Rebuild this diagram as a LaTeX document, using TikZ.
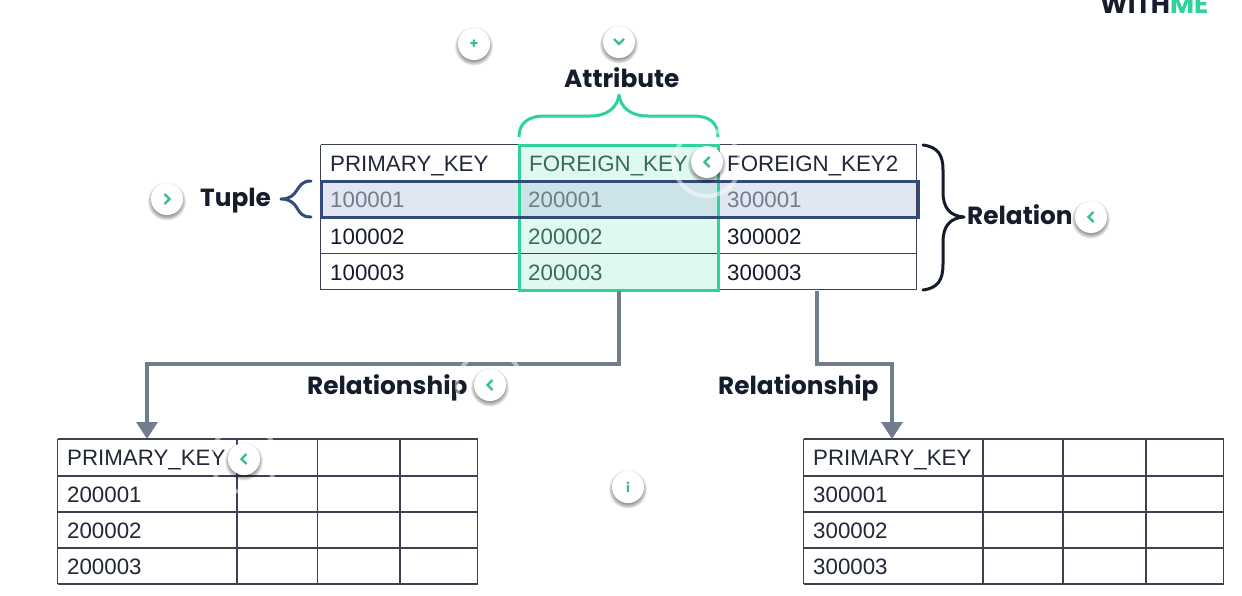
\documentclass[tikz,border=0pt]{standalone}
\usepackage{fontspec}
\setmainfont{Liberation Sans}
\newfontfamily\popfont{Poppins}
\usetikzlibrary{arrows.meta}
\definecolor{ink}{HTML}{151C2C}
\definecolor{grid}{HTML}{3C4252}
\definecolor{mint}{HTML}{2ED39A}
\definecolor{mintfill}{HTML}{E0F9EE}
\definecolor{minttext}{HTML}{3A6A62}
\definecolor{navy}{HTML}{344A7A}
\definecolor{navyfill}{HTML}{E0E7F1}
\definecolor{mixfill}{HTML}{CCE3E7}
\definecolor{linkgrey}{HTML}{737C8C}
\definecolor{btngreen}{HTML}{35BE92}
\tikzset{
    gridline/.style={draw=grid, line width=1.2pt},
    cell/.style={anchor=base west, inner sep=0pt, font=\fontsize{22.3}{24}\selectfont, text=ink!95},
    title/.style={anchor=base west, inner sep=0pt, text=ink, font=\popfont\bfseries\fontsize{24.8}{26}\selectfont},
    link/.style={draw=linkgrey, line width=3.3pt, -{Triangle[length=17pt,width=21pt]}},
    btn/.style={circle, fill=white, minimum size=32pt, inner sep=0pt},
    chev/.style={draw=btngreen, line width=2.3pt},
    ring/.style={draw=white, opacity=.5, line width=4pt},
}
% soft shadow below a viewer button
\newcommand{\softshadow}[2]{%
    \foreach \rr in {15,16,17,18,19} \fill[black, opacity=.09] (#1,#2+2.5) circle (\rr);%
}
\begin{document}
\begin{tikzpicture}[x=1pt,y=-1pt]
    \useasboundingbox (0,0) rectangle (1242,595);
    \fill[white] (0,0) rectangle (1242,595);

    % anchors of the connectors
    \coordinate (fkOne) at (619,291);
    \coordinate (fkTwo) at (817,291);
    \coordinate (pkLeft) at (147,439);
    \coordinate (pkRight) at (892,439);

    % top table
    \fill[mintfill] (519,145) rectangle (718,290);
    \fill[navyfill] (320.5,181) rectangle (917,217);
    \fill[mixfill] (519,181) rectangle (718,217);
    \foreach \yy in {144.5,253.5,289.5} \draw[gridline] (320.5,\yy) -- (917,\yy);
    \foreach \xx in {320.5,916.5} \draw[gridline] (\xx,144.5) -- (\xx,289.5);
    \draw[mint, line width=3pt] (519,145) rectangle (718,290);
    \draw[navy, line width=3pt] (321,181) rectangle (918,217);

    \node[cell] (pkHead) at (330,171) {PRIMARY\_KEY};
    \node[cell, text=minttext] (fkHead) at (529,171) {FOREIGN\_KEY};
    \node[cell] (fkHeadTwo) at (727,171) {FOREIGN\_KEY2};
    \foreach \col/\xx/\tone in {1/330/ink,2/528/minttext,3/727/ink} {
        \node[cell, text=linkgrey] (row\col a) at (\xx,207.5) {\col00001};
        \node[cell, text=\tone] (row\col b) at (\xx,244) {\col00002};
        \node[cell, text=\tone] (row\col c) at (\xx,280) {\col00003};
    }

    % lower tables
    \foreach \a/\b/\c/\d/\e/\num in {57.5/237/317.5/400/477.5/2,803.5/983/1063/1146/1223.5/3} {
        \foreach \yy in {439,476,512,548,584} \draw[gridline] (\a,\yy) -- (\e,\yy);
        \foreach \xx in {\a,\b,\c,\d,\e} \draw[gridline] (\xx,439) -- (\xx,584);
        \node[cell] (head\num) at (\a+9.5,465.5) {PRIMARY\_KEY};
        \node[cell] (key\num a) at (\a+9.5,502) {\num00001};
        \node[cell] (key\num b) at (\a+9.5,538) {\num00002};
        \node[cell] (key\num c) at (\a+9.5,574) {\num00003};
    }

    % connectors
    \draw[link] (fkOne) -- ++(0,73) -| (pkLeft);
    \draw[link] (fkTwo) -- ++(0,73) -| (pkRight);

    % braces
    \draw[mint, line width=3pt, line join=round] (519,137) .. controls (519,123) and (528,116) .. (545,116)
        -- (590,116) .. controls (607,116) and (617,108) .. (619,95)
        .. controls (621,108) and (631,116) .. (648,116)
        -- (693,116) .. controls (710,116) and (718,123) .. (718,137);
    \draw[navy, line width=3pt, line cap=round, line join=round] (311,181) .. controls (302,181) and (300,186) .. (297,190)
        .. controls (294,195) and (290,199) .. (281,199)
        .. controls (290,199) and (294,203) .. (297,208)
        .. controls (300,213) and (302,217) .. (311,217);
    \draw[ink, line width=3pt, line cap=round, line join=round] (923,145) .. controls (938,147) and (943,155) .. (943,170)
        -- (943,192) .. controls (943,208) and (950,216) .. (964,217)
        .. controls (950,218) and (943,226) .. (943,242)
        -- (943,264) .. controls (943,280) and (938,288) .. (923,290);

    % labels
    \node[title] (attr) at (564,87) {Attribute};
    \node[title] (tuple) at (200,206) {Tuple};
    \node[title] (rel) at (967,224) {Relation};
    \node[title] (relA) at (307,394) {Relationship};
    \node[title] (relB) at (718,394) {Relationship};
    \node[anchor=base west, inner sep=0pt, text=ink, font=\popfont\bfseries\fontsize{26.2}{28}\selectfont] (brand) at (1100,13.5) {WITH\textcolor{mint}{ME}};

    % viewer rings
    \foreach \px/\py in {707/163,490/385,244/459} \draw[ring] (\px,\py) circle (33);

    % viewer buttons
    \foreach \px/\py/\dx/\name in {167/199/-1/bTuple,707/162/1/bAttr,1091/217/1/bRel,490/385/1/bLeft,244/459/1/bTab} {
        \softshadow{\px}{\py}
        \node[btn] (\name) at (\px,\py) {};
        \draw[chev] (\px+\dx*2.5,\py-5) -- (\px-\dx*2.5,\py) -- (\px+\dx*2.5,\py+5);
    }
    \softshadow{619}{42}
    \node[btn] (bDown) at (619,42) {};
    \draw[chev] (614,39) -- (619,44) -- (624,39);
    \softshadow{474}{44}
    \node[btn, text=btngreen, font=\popfont\bfseries\fontsize{14}{14}\selectfont] (bPlus) at (474,44) {+};
    \softshadow{628}{487}
    \node[btn, text=btngreen, font=\popfont\bfseries\fontsize{13}{13}\selectfont] (bInfo) at (628,487) {i};
\end{tikzpicture}
\end{document}
